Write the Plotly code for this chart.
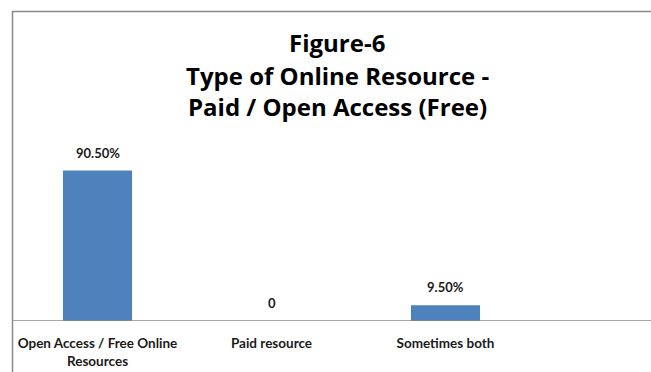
import plotly.graph_objects as go

# Chart data
categories = ["Open Access / Free Online Resources", "Paid resource", "Sometimes both"]
tick_labels = ["Open Access / Free Online<br>Resources", "Paid resource", "Sometimes both"]
values = [90.5, 0, 9.5]
value_labels = ["90.50%", "0", "9.50%"]
title_lines = ["Figure-6", "Type of Online Resource -", "Paid / Open Access (Free)"]

W, H = 651, 372
FONT = "Lato"
TITLE_FONT = "Open Sans"
TEXT_COLOR = "#1a1a1a"
BAR_COLOR = "#4F81BD"
FRAME_COLOR = "#8a8a8a"

# pixel layout helpers
def px_x(x):
    return x / W

def px_y(y):
    return 1 - y / H

plot_left, plot_right = 10.5, 532.5
plot_top, plot_bottom = 130, 321
y_max = (plot_bottom - plot_top) / 1.662

fig = go.Figure()
fig.add_trace(go.Bar(
    x=categories,
    y=values,
    marker=dict(color=BAR_COLOR, line=dict(width=0)),
    hoverinfo="skip",
))

annotations = []
for cat, v, lab in zip(categories, values, value_labels):
    annotations.append(dict(
        x=cat, y=v, xref="x", yref="y", text=lab, showarrow=False,
        yanchor="bottom", yshift=8,
        font=dict(family=FONT, size=13, color=TEXT_COLOR, weight="bold"),
    ))

title_y = [42, 75, 107]
for line, ty in zip(title_lines, title_y):
    annotations.append(dict(
        x=px_x(337), y=px_y(ty), xref="paper", yref="paper", text=line,
        showarrow=False, xanchor="center", yanchor="middle",
        font=dict(family=TITLE_FONT, size=24, color="#000000", weight="bold"),
    ))

shapes = [
    # chart frame (continues past the right and bottom edges)
    dict(type="rect", xref="paper", yref="paper",
         x0=px_x(12.5), x1=1.02, y0=-0.02, y1=px_y(11.5),
         line=dict(color=FRAME_COLOR, width=1.5), fillcolor="rgba(0,0,0,0)",
         layer="below"),
    # category axis baseline
    dict(type="line", xref="paper", yref="y",
         x0=px_x(12.5), x1=1.02, y0=0, y1=0,
         line=dict(color=FRAME_COLOR, width=1.5), layer="above"),
]

fig.update_layout(
    width=W, height=H,
    margin=dict(l=0, r=0, t=0, b=0),
    paper_bgcolor="white", plot_bgcolor="white",
    showlegend=False,
    bargap=0.603,
    annotations=annotations,
    shapes=shapes,
    xaxis=dict(
        domain=[px_x(plot_left), px_x(plot_right)],
        tickmode="array", tickvals=categories, ticktext=tick_labels,
        showline=False, showgrid=False, zeroline=False,
        ticks="outside", ticklen=10, tickcolor="rgba(0,0,0,0)",
        tickfont=dict(family=FONT, size=13.5, color=TEXT_COLOR, weight="bold"),
        fixedrange=True,
    ),
    yaxis=dict(
        domain=[px_y(plot_bottom), px_y(plot_top)],
        range=[0, y_max],
        showticklabels=False, showgrid=False, zeroline=False, showline=False,
        fixedrange=True,
    ),
)

fig.write_html("out.html")
